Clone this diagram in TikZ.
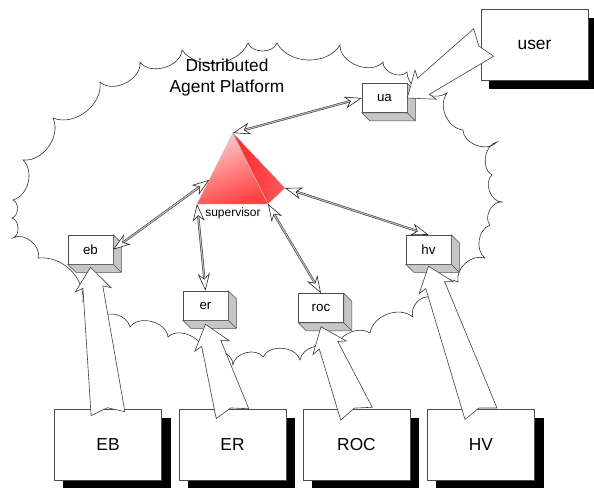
\documentclass[tikz,border=0pt]{standalone}
\usepackage{fontspec}
\setmainfont{Liberation Sans}
\usetikzlibrary{arrows.meta,calc,backgrounds}

% wide hollow arrow from a tail point to a tip point
\newcommand\hollowarrow[2]{%
	\coordinate (ha) at (#1);
	\coordinate (hb) at (#2);
	\coordinate (hn) at ($(hb)!15pt!(ha)$);
	\coordinate (hw) at ($(hb)!17pt!(ha)$);
	\coordinate (hc) at ($(ha)!4.5pt!(hb)$);
	\draw[bigarrow] ($(ha)!12.75pt!90:(hb)$) -- ($(hn)!7.5pt!90:(hb)$) -- ($(hw)!13.5pt!90:(hb)$) -- (hb)
		-- ($(hw)!13.5pt!-90:(hb)$) -- ($(hn)!7.5pt!-90:(hb)$) -- ($(ha)!12.75pt!-90:(hb)$) -- (hc) -- cycle;
}
% grey sides of a small agent box
\newcommand\agentdepth[1]{%
	\filldraw[bevel] (#1.north east) -- ($(#1.north east)+(8,8)$) -- ($(#1.south east)+(8,8)$) -- ($(#1.south west)+(8,8)$) -- (#1.south west) -- (#1.south east) -- cycle;
	\draw[bevel] (#1.south east) -- ($(#1.south east)+(8,8)$);
}

\begin{document}
\begin{tikzpicture}[x=0.75pt,y=0.75pt,yscale=-1,xscale=1,
	system/.style={draw=gray!60!black, line width=0.5pt, fill=white, minimum width=80.25pt, minimum height=53.25pt, inner sep=0pt, font=\fontsize{13}{15}\selectfont},
	agent/.style={draw=gray!60!black, line width=0.4pt, fill=white, minimum width=33.75pt, minimum height=21.75pt, inner sep=0pt, font=\fontsize{10}{12}\selectfont},
	bevel/.style={draw=gray!60!black, line width=0.4pt, fill=gray!45},
	bigarrow/.style={draw=gray!50!black, line width=0.45pt, fill=white, line join=miter},
	cloudline/.style={draw=gray!40!black, line width=0.45pt},
	link/.style={draw=gray!30!black, line width=0.35pt, double=gray!55, double distance=0.9pt,
		{Stealth[fill=white, length=13pt, width=9pt, inset=4pt, line width=0.45pt]}-{Stealth[fill=white, length=13pt, width=9pt, inset=4pt, line width=0.45pt]}}]
	\useasboundingbox (0,0) rectangle (594,487);

	% Cloud
	\draw[cloudline] (100,82) to[bend left=70] (140,62) to[bend left=70] (182,50) to[bend left=60] (248,43)
		to[bend left=70] (277,43) to[bend left=60] (340,45) to[bend left=70] (383,62) to[bend left=70] (407,72)
		to[bend left=60] (447,93) to[bend left=60] (463,130) to[bend left=70] (497,142) to[bend left=70] (492,175)
		to[bend left=70] (502,202) to[bend left=70] (490,225) to[bend left=60] (485,258) to[bend left=60] (458,282)
		to[bend left=60] (430,297) to[bend left=60] (413,317) to[bend left=60] (370,333) to[bend left=60] (335,352)
		to[bend left=70] (300,360) to[bend left=70] (263,357) to[bend left=70] (233,365) to[bend left=70] (203,353)
		to[bend left=70] (168,337) to[bend left=70] (130,327) to[bend left=60] (100,318) to[bend left=60] (83,302)
		to[bend left=50] (38,258) to[bend left=70] (13,238) to[bend left=70] (12,218) to[bend left=70] (13,200)
		to[bend left=60] (23,160) to[bend left=60] (53,118) to[bend left=60] (100,82);
	% Text Node
	\node[align=center, font=\fontsize{13}{15.75}\selectfont] (platform) at (227,78) {Distributed\\Agent Platform};

	% Supervisor
	\coordinate (apex) at (233,133);
	\coordinate (bl) at (197,204);
	\coordinate (br) at (268,204);
	\coordinate (back) at (285,188);
	\coordinate (supl) at ($(apex)!0.66!(bl)$);
	\shade[top color=red!20, bottom color=red!75, shading angle=20, draw=gray!55, line width=0.3pt] (apex) -- (bl) -- (br) -- cycle;
	\shade[left color=red!85, right color=red!65, draw=gray!55, line width=0.3pt] (apex) -- (br) -- (back) -- cycle;
	\node[anchor=north west, inner sep=0pt, font=\fontsize{9}{10}\selectfont] (suplabel) at (205,208) {supervisor};

	% Agents
	\node[agent] (ua) at (384.5,98) {ua};
	\node[agent] (eb) at (90.5,249.5) {eb};
	\node[agent] (er) at (205.5,305.5) {er};
	\node[agent] (roc) at (321,308) {roc};
	\node[agent] (hv) at (428.5,249.5) {hv};
	\agentdepth{ua}
	\agentdepth{eb}
	\agentdepth{er}
	\agentdepth{roc}
	\agentdepth{hv}

	% Systems
	\node[system] (user) at (534.5,44.5) {user};
	\node[system] (EB) at (108,444.5) {EB};
	\node[system] (ER) at (232.5,444.5) {ER};
	\node[system] (ROC) at (356.5,444.5) {ROC};
	\node[system] (HV) at (481,444.5) {HV};
	\begin{scope}[on background layer]
		\fill ($(user.north west)+(8,9)$) rectangle ($(user.south east)+(8,9)$);
		\fill ($(EB.north west)+(9,9)$) rectangle ($(EB.south east)+(9,9)$);
		\fill ($(ER.north west)+(9,9)$) rectangle ($(ER.south east)+(9,9)$);
		\fill ($(ROC.north west)+(9,9)$) rectangle ($(ROC.south east)+(9,9)$);
		\fill ($(HV.north west)+(9,9)$) rectangle ($(HV.south east)+(9,9)$);
	\end{scope}

	% Connection
	\draw[link] (ua.west) -- (apex);
	\draw[link] (eb.east) -- (supl);
	\draw[link] (er.north) -- (bl);
	\draw[link] (roc.north) -- (br);
	\draw[link] (hv.north) -- (back);

	% Connection
	\hollowarrow{$(user.west)+(3,-2)$}{ua.east}
	\hollowarrow{$(EB.north)+(0,5)$}{$(eb.south)+(0,3)$}
	\hollowarrow{$(ER.north)+(0,5)$}{$(er.south)+(0,4)$}
	\hollowarrow{$(ROC.north)+(0,5)$}{$(roc.south)+(0,4)$}
	\hollowarrow{$(HV.north)+(0,5)$}{$(hv.south)+(0,2)$}

\end{tikzpicture}
\end{document}
